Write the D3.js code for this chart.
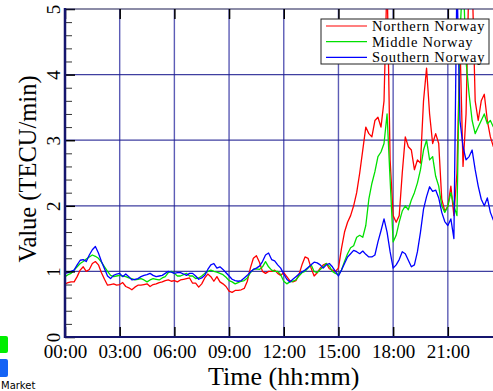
<!DOCTYPE html>
<html>
<head>
<meta charset="utf-8">
<script src="https://cdn.jsdelivr.net/npm/d3@7"></script>
<style>
  body { margin: 0; background: #fff; }
  svg { display: block; }
</style>
</head>
<body>
<svg id="chart" width="493" height="391"></svg>
<script>
// series, one value every 10 minutes starting 00:00
const seriesNames = ["Northern Norway", "Middle Norway", "Southern Norway"];
const seriesColors = ["#ff0000", "#00e000", "#0000ff"];
const stepMinutes = 10;

const northern = [
  0.81,0.83,0.84,0.84,0.92,1.02, 1.07,1.00,1.03,1.12,1.15,1.10,
  0.98,0.88,0.79,0.80,0.81,0.79, 0.80,0.83,0.77,0.75,0.72,0.76,
  0.79,0.79,0.80,0.81,0.77,0.80, 0.81,0.83,0.84,0.86,0.87,0.85,
  0.86,0.84,0.87,0.88,0.89,0.90, 0.82,0.82,0.76,0.81,0.90,0.96,
  0.92,0.85,0.92,0.84,0.81,0.77, 0.70,0.68,0.71,0.71,0.72,0.74,
  0.85,1.05,1.20,1.24,1.14,1.00, 0.97,1.00,1.00,1.02,0.97,0.94,
  0.98,0.92,0.86,0.84,0.86,0.95, 1.10,1.22,1.20,1.05,0.93,0.98,
  1.05,1.10,1.12,1.04,1.02,1.00, 1.05,1.35,1.60,1.75,1.85,2.00,
  2.20,2.50,2.85,3.20,3.10,3.05, 3.30,3.35,3.20,3.60,5.50,2.70,
  1.85,1.75,1.85,2.50,3.05,2.90, 2.85,2.55,2.70,2.65,3.60,4.10,
  3.40,2.95,3.10,2.95,2.10,1.92, 1.99,2.30,1.85,2.50,4.50,2.60,
  3.40,5.60,5.50,3.60,3.30,3.60, 3.70,3.30,3.05,2.90
];
const middle = [
  0.92,0.95,0.97,1.02,1.07,1.12, 1.15,1.19,1.22,1.25,1.23,1.20,
  1.14,1.07,1.00,0.94,0.92,0.93, 0.94,0.93,0.92,0.90,0.89,0.87,
  0.88,0.89,0.87,0.84,0.87,0.89, 0.88,0.87,0.90,0.92,0.98,1.00,
  0.97,0.93,0.93,0.95,0.97,0.93, 0.93,0.89,0.90,0.93,0.97,1.00,
  1.02,1.00,0.99,0.97,0.95,0.91, 0.86,0.84,0.81,0.83,0.85,0.86,
  0.90,0.98,1.03,1.04,1.03,1.07, 1.15,1.07,1.02,1.00,1.00,0.95,
  0.85,0.81,0.84,0.85,0.87,0.93, 0.98,1.00,1.05,1.10,1.00,0.98,
  1.03,1.07,1.12,1.08,1.00,0.97, 0.95,1.02,1.15,1.27,1.36,1.39,
  1.52,1.55,1.52,1.70,2.10,2.34, 2.52,2.75,2.82,2.95,3.40,2.40,
  1.45,1.55,1.75,1.92,2.00,1.94, 2.09,2.20,2.35,2.55,2.85,3.00,
  2.70,2.75,2.45,2.30,2.00,1.90, 1.99,2.20,2.00,1.85,4.60,5.60,
  4.20,3.70,3.30,3.10,3.20,3.30, 3.40,3.25,3.30,3.20
];
const southern = [
  0.97,0.98,1.00,1.02,1.10,1.17, 1.18,1.15,1.25,1.33,1.38,1.28,
  1.15,1.04,0.93,0.89,0.94,0.96, 0.97,0.92,0.96,0.92,0.87,0.88,
  0.89,0.92,0.94,0.95,0.97,0.94, 0.92,0.93,0.94,0.97,1.00,0.99,
  0.97,0.98,0.98,0.96,0.94,0.97, 0.97,0.93,0.88,0.90,0.94,1.03,
  1.10,1.12,1.05,1.07,1.03,0.98, 0.93,0.88,0.86,0.85,0.86,0.90,
  0.94,0.99,1.03,1.05,1.08,1.15, 1.25,1.28,1.18,1.16,1.10,1.05,
  0.96,0.88,0.84,0.88,0.92,0.96, 0.99,1.02,1.06,1.10,1.14,1.13,
  1.10,1.05,1.10,1.12,1.07,1.00, 0.93,1.02,1.12,1.22,1.27,1.32,
  1.30,1.27,1.31,1.26,1.22,1.22, 1.25,1.45,1.62,1.80,1.60,1.30,
  1.05,1.10,1.18,1.30,1.27,1.17, 1.07,1.10,1.30,1.60,1.95,2.14,
  2.29,2.22,2.24,2.12,1.90,1.76, 1.70,1.80,1.50,5.50,3.30,2.90,
  2.70,2.75,2.85,2.55,2.30,2.10, 2.00,2.12,1.90,1.78
];
const allSeries = [northern, middle, southern];

const xTickHours = [0, 3, 6, 9, 12, 15, 18, 21];
const yTicks = [0, 1, 2, 3, 4, 5];

const svg = d3.select("#chart");
const plotLeft = 65, plotTop = 9, plotBottom = 337;
const hourPx = 18.23;

const x = d3.scaleLinear().domain([0, 24]).range([plotLeft, plotLeft + 24 * hourPx]);
const y = d3.scaleLinear().domain([0, 5]).range([plotBottom, plotTop]);

const serif = "'Liberation Serif', 'Times New Roman', serif";

svg.append("defs").append("clipPath").attr("id", "plotclip")
  .append("rect")
  .attr("x", plotLeft).attr("y", plotTop)
  .attr("width", x(24) - plotLeft).attr("height", plotBottom - plotTop);

// grid
const grid = svg.append("g");
grid.selectAll("line.v")
  .data(xTickHours.filter(d => d > 0))
  .enter().append("line")
  .attr("x1", d => x(d)).attr("x2", d => x(d))
  .attr("y1", plotTop).attr("y2", plotBottom)
  .attr("stroke", "#3434a4").attr("stroke-width", 1.4).attr("opacity", 0.8);
grid.selectAll("line.h")
  .data(yTicks.filter(d => d > 0 && d < 5))
  .enter().append("line")
  .attr("x1", plotLeft).attr("x2", x(24))
  .attr("y1", d => y(d)).attr("y2", d => y(d))
  .attr("stroke", "#1e1e90").attr("stroke-width", 1.3).attr("opacity", 0.85);

// series lines
const times = d3.range(northern.length).map(i => i * stepMinutes / 60);
const line = d3.line()
  .x((d, i) => x(times[i]))
  .y(d => y(d));

const plot = svg.append("g").attr("clip-path", "url(#plotclip)");
allSeries.forEach((s, k) => {
  plot.append("path")
    .datum(s)
    .attr("fill", "none")
    .attr("stroke", seriesColors[k])
    .attr("stroke-width", 1.3)
    .attr("stroke-linejoin", "round")
    .attr("d", line);
});

// axes
const yMinor = d3.range(0, 5.001, 0.2).filter(v => Math.abs(v - Math.round(v)) > 0.01);
svg.append("g")
  .attr("transform", "translate(" + plotLeft + ",0)")
  .call(d3.axisLeft(y).tickValues(yMinor).tickSize(-7).tickFormat(""))
  .call(g => g.select(".domain").remove())
  .call(g => g.selectAll("line").attr("stroke", "#333").attr("stroke-width", 1));

const yAxis = svg.append("g")
  .attr("transform", "translate(" + plotLeft + ",0)")
  .call(d3.axisLeft(y).tickValues(yTicks).tickSize(-10).tickPadding(5).tickFormat(d3.format("d")));
yAxis.select(".domain").remove();
yAxis.selectAll("line").attr("stroke", "#000").attr("stroke-width", 1.5);
yAxis.selectAll("text")
  .attr("font-family", serif).attr("font-size", 19).attr("fill", "#000")
  .attr("text-anchor", "middle")
  .attr("x", 0).attr("dy", 0)
  .attr("transform", "translate(-5,0) rotate(-90)");

const xAxis = svg.append("g")
  .attr("transform", "translate(0," + plotBottom + ")")
  .call(d3.axisBottom(x).tickValues(xTickHours).tickSize(-10).tickPadding(8)
    .tickFormat(d => d3.format("02d")(d) + ":00"));
xAxis.select(".domain").remove();
xAxis.selectAll("line").attr("stroke", "#000").attr("stroke-width", 1.5);
xAxis.selectAll("text")
  .attr("font-family", serif).attr("font-size", 19).attr("fill", "#000")
  .attr("dy", 0).attr("y", 21);

// top border and its ticks
svg.append("line")
  .attr("x1", plotLeft).attr("x2", 493).attr("y1", plotTop).attr("y2", plotTop)
  .attr("stroke", "#1a1a50").attr("stroke-width", 1.2);
svg.append("g")
  .attr("transform", "translate(0," + plotTop + ")")
  .call(d3.axisTop(x).tickValues(xTickHours).tickSize(-10).tickFormat(""))
  .call(g => g.select(".domain").remove())
  .call(g => g.selectAll("line").attr("stroke", "#000").attr("stroke-width", 1.5));

// frame: left and bottom
svg.append("line")
  .attr("x1", plotLeft).attr("x2", plotLeft).attr("y1", plotTop - 1).attr("y2", plotBottom + 1)
  .attr("stroke", "#15156e").attr("stroke-width", 2.5);
svg.append("line")
  .attr("x1", plotLeft).attr("x2", 493).attr("y1", plotBottom).attr("y2", plotBottom)
  .attr("stroke", "#15156e").attr("stroke-width", 2.2);

// axis titles
svg.append("text")
  .attr("transform", "translate(36,169) rotate(-90)")
  .attr("text-anchor", "middle")
  .attr("font-family", serif).attr("font-size", 24.5)
  .text("Value (TECU/min)");
svg.append("text")
  .attr("x", x(12)).attr("y", 385)
  .attr("text-anchor", "middle")
  .attr("font-family", serif).attr("font-size", 26)
  .text("Time (hh:mm)");

// legend
const legend = svg.append("g").attr("transform", "translate(321,19)");
legend.append("rect")
  .attr("width", 168).attr("height", 45)
  .attr("fill", "#fff").attr("stroke", "#222").attr("stroke-width", 1);
seriesNames.forEach((name, k) => {
  const ly = 7 + k * 15.7;
  legend.append("line")
    .attr("x1", 5).attr("x2", 46).attr("y1", ly).attr("y2", ly)
    .attr("stroke", seriesColors[k]).attr("stroke-width", 1.2);
  legend.append("text")
    .attr("x", 51).attr("y", ly + 5)
    .attr("font-family", serif).attr("font-size", 14.5)
    .attr("letter-spacing", 0.7)
    .text(name);
});

// pieces of the neighbouring figure at the lower left
svg.append("rect").attr("x", -3).attr("y", 336).attr("width", 11).attr("height", 17)
  .attr("rx", 2).attr("fill", "#00ee00");
svg.append("rect").attr("x", -3).attr("y", 359).attr("width", 11).attr("height", 18)
  .attr("rx", 2).attr("fill", "#1463f5");
svg.append("text")
  .attr("x", 1).attr("y", 389)
  .attr("font-family", "'DejaVu Sans', sans-serif").attr("font-size", 10)
  .text("Market");
</script>
</body>
</html>
